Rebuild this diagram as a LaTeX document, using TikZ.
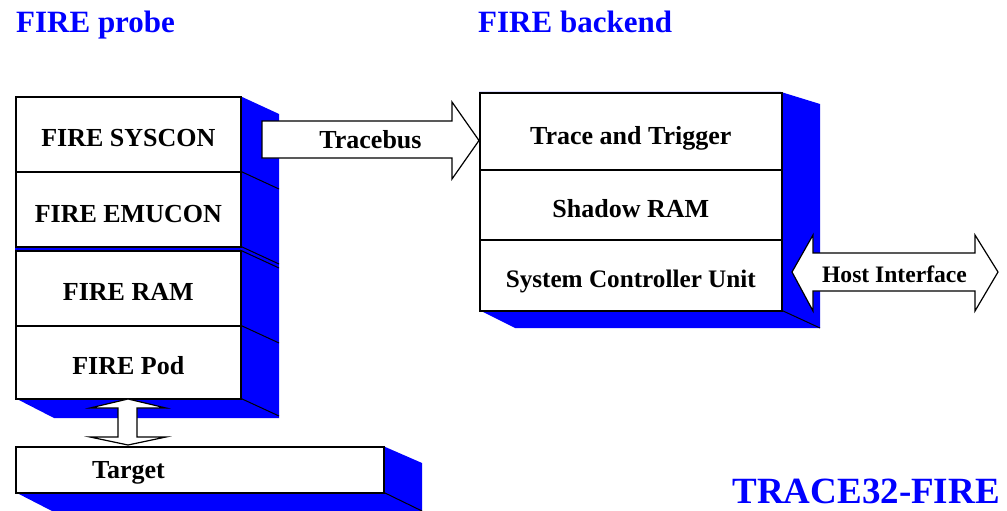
\documentclass[tikz,border=0pt]{standalone}
\usepackage{fontspec}
\setmainfont{Liberation Serif}
\definecolor{fireblue}{RGB}{0,0,255}
\begin{document}
\begin{tikzpicture}[x=1pt,y=-1pt,
  box/.style={draw=black, line width=1.6pt, fill=white, rectangle, inner sep=0pt, anchor=north west,
              font=\bfseries\fontsize{26}{30}\selectfont, text height=25pt, text depth=0pt},
  edgeline/.style={draw=black, line width=1pt},
  blockarrow/.style={draw=black, line width=1.2pt, fill=white, line join=miter},
  title/.style={text=fireblue, font=\bfseries\fontsize{31}{36}\selectfont, inner sep=0pt},
  lbl/.style={font=\bfseries\fontsize{26}{30}\selectfont, inner sep=0pt, anchor=base}]
\useasboundingbox (0,0) rectangle (1007,511);
\fill[white] (0,0) rectangle (1007,511);

% titles
\node[title, anchor=base west] (tprobe) at (16,33) {FIRE probe};
\node[title, anchor=base west] (tbackend) at (478,33) {FIRE backend};
\node[title, font=\bfseries\fontsize{37}{42}\selectfont, anchor=base east] (tmain) at (1000,503) {TRACE32-FIRE};

% 3D blue bodies
\fill[fireblue] (15,96) -- (240,96) -- (279,114) -- (279,418) -- (54,418) -- (15,398) -- cycle;
\foreach \yy in {171,246,250,325,398} \draw[edgeline] (240,\yy) -- (279,\yy+18);
\fill[fireblue] (479,92) -- (781,92) -- (820,104) -- (820,328) -- (515,328) -- (479,310) -- cycle;
\draw[edgeline] (781,310) -- (820,328);
\fill[fireblue] (15,446) -- (383,446) -- (422,463) -- (422,511) -- (52,511) -- (15,492) -- cycle;
\draw[edgeline] (383,492) -- (422,511);

% probe boxes
\node[box, minimum width=225pt, minimum height=75pt] (syscon) at (15,96) {FIRE SYSCON};
\node[box, minimum width=225pt, minimum height=75pt, text height=27pt] (emucon) at (15,171) {FIRE EMUCON};
\node[box, minimum width=225pt, minimum height=75pt] (ram) at (15,250) {FIRE RAM};
\node[box, minimum width=225pt, minimum height=73pt] (pod) at (15,325) {FIRE Pod};
\node[box, minimum width=368pt, minimum height=46pt] (target) at (15,446) {};
\node[lbl] (targetlbl) at (128.5,478) {Target};

% backend boxes
\node[box, minimum width=302pt, minimum height=77pt, text height=27pt] (trace) at (479,92) {Trace and Trigger};
\node[box, minimum width=302pt, minimum height=70pt, text height=26pt] (shadow) at (479,169) {Shadow RAM};
\node[box, minimum width=302pt, minimum height=71pt, font=\bfseries\fontsize{25.2}{30}\selectfont] (scu) at (479,239) {System Controller Unit};

% block arrows
\draw[blockarrow] (262,121) -- (452,121) -- (452,102) -- (479,140.5) -- (452,179) -- (452,158) -- (262,158) -- cycle;
\node[lbl] (tracebus) at (370.5,148) {Tracebus};

\draw[blockarrow] (128,399) -- (166,408) -- (137,408) -- (137,437) -- (166,437) -- (128,445)
  -- (90,437) -- (118,437) -- (118,408) -- (90,408) -- cycle;

\draw[blockarrow] (792,272) -- (813,235) -- (813,253) -- (975,253) -- (975,235) -- (998,272)
  -- (975,311) -- (975,291) -- (813,291) -- (813,311) -- cycle;
\node[lbl, font=\bfseries\fontsize{23.6}{28}\selectfont] (host) at (894.5,282) {Host Interface};
\end{tikzpicture}
\end{document}
